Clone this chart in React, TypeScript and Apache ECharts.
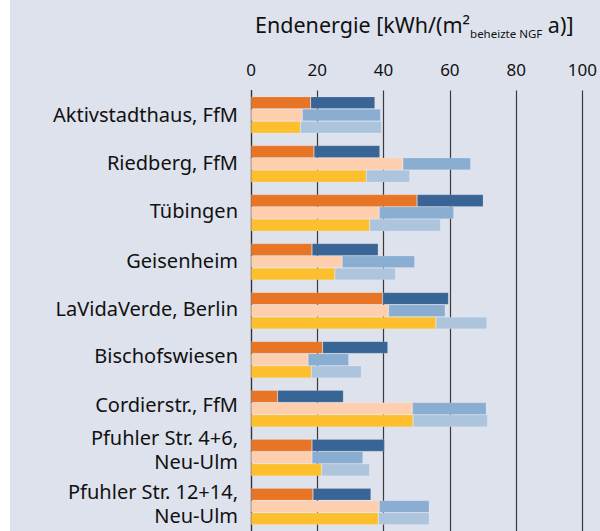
import React, { useEffect, useRef } from "react";
import * as echarts from "echarts";

const categories = [
  "Aktivstadthaus, FfM",
  "Riedberg, FfM",
  "Tübingen",
  "Geisenheim",
  "LaVidaVerde, Berlin",
  "Bischofswiesen",
  "Cordierstr., FfM",
  "Pfuhler Str. 4+6,\nNeu-Ulm",
  "Pfuhler Str. 12+14,\nNeu-Ulm",
];

// Segment values [kWh/(m² a)]
const orangeValues = [18.0, 19.0, 50.1, 18.4, 39.7, 21.6, 8.0, 18.4, 18.7];
const darkBlueValues = [19.4, 19.9, 20.0, 20.0, 19.9, 19.7, 19.9, 21.9, 17.5];
const peachValues = [15.5, 45.8, 38.7, 27.5, 41.5, 17.2, 48.7, 18.4, 38.7];
const midBlueValues = [23.6, 20.5, 22.5, 21.9, 17.1, 12.3, 22.3, 15.4, 15.1];
const yellowValues = [14.9, 34.8, 35.8, 25.3, 55.8, 18.2, 48.9, 21.3, 38.4];
const lightBlueValues = [24.5, 13.1, 21.4, 18.3, 15.4, 15.1, 22.5, 14.5, 15.4];

const FONT = "Noto Sans";

export default function App() {
  const ref = useRef<HTMLDivElement>(null);

  useEffect(() => {
    document.body.style.margin = "0";
    if (!ref.current) return;
    const chart = echarts.init(ref.current, undefined, { renderer: "svg" });
    const mk = (name: string, stack: string, data: number[], color: string) => ({
      name,
      type: "bar",
      stack,
      data,
      barGap: "0%",
      barCategoryGap: "25%",
      itemStyle: { color, borderColor: "rgba(255,255,255,0.25)", borderWidth: 0.6 },
      emphasis: { disabled: true },
    });
    // small upward shifts (px) of some labels, as in the reference layout
    const shift: Record<number, number> = { 1: 1, 2: 2, 3: 1, 4: 2, 5: 4, 6: 4, 7: 8, 8: 3 };
    const rich: any = {
      t: { fontSize: 20, lineHeight: 24, fontFamily: FONT, color: "#111", align: "right" },
    };
    Object.keys(shift).forEach((k) => {
      rich["g" + k] = { fontSize: 1, lineHeight: shift[+k] * 2, align: "right" };
    });
    chart.setOption({
      animation: false,
      backgroundColor: "#dee2ed",
      textStyle: { fontFamily: FONT },
      title: {
        left: 245,
        top: 9,
        padding: 0,
        text: "{a|Endenergie [kWh/(m²}{b|beheizte NGF}{a| a)]}",
        textStyle: {
          fontWeight: "normal",
          rich: {
            a: { fontSize: 21.5, fontFamily: FONT, color: "#111", lineHeight: 30, fontWeight: "normal" },
            b: {
              fontSize: 11.5,
              fontFamily: FONT,
              color: "#111",
              fontWeight: "normal",
              lineHeight: 30,
              verticalAlign: "bottom",
              padding: [12, 0, 0, 0],
            },
          },
        },
      },
      grid: { left: 241, right: 6, top: 90.5, bottom: -4, containLabel: false },
      xAxis: {
        type: "value",
        position: "top",
        min: 0,
        max: 100,
        interval: 20,
        axisLine: { show: false },
        axisTick: { show: false },
        axisLabel: { fontSize: 17, color: "#111", margin: 13, fontFamily: FONT },
        splitLine: { show: true, lineStyle: { color: "#3a3a3a", width: 1.2 } },
      },
      yAxis: {
        type: "category",
        inverse: true,
        data: categories,
        axisLine: { show: true, lineStyle: { color: "#333", width: 1.2 } },
        axisTick: { show: false },
        axisLabel: {
          interval: 0,
          hideOverlap: false,
          color: "#111",
          margin: 13,
          fontFamily: FONT,
          align: "right",
          formatter: (value: string, index: number) => {
            const lines = value.split("\n").map((l) => "{t|" + l + "}");
            if (shift[index]) lines.push("{g" + index + "| }");
            return lines.join("\n");
          },
          rich,
        },
      },
      series: [
        mk("a1", "a", orangeValues, "#e87425"),
        mk("a2", "a", darkBlueValues, "#386595"),
        mk("b1", "b", peachValues, "#fdcfae"),
        mk("b2", "b", midBlueValues, "#8aadd2"),
        mk("c1", "c", yellowValues, "#fdbf2d"),
        mk("c2", "c", lightBlueValues, "#adc4dd"),
      ],
    });
    return () => chart.dispose();
  }, []);

  return (
    <div style={{ position: "fixed", left: 0, top: 0, width: 600, height: 531, background: "#fff" }}>
      <div ref={ref} style={{ position: "absolute", left: 10, top: 0, width: 590, height: 531 }} />
    </div>
  );
}
